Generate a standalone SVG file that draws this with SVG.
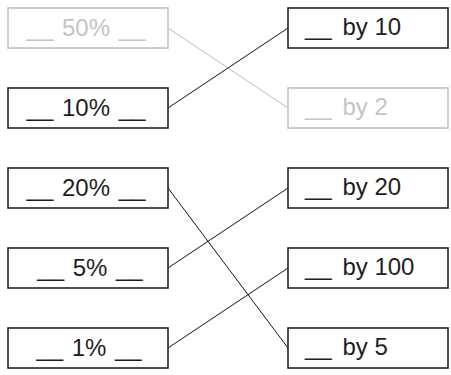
<svg xmlns="http://www.w3.org/2000/svg" width="451" height="375" viewBox="0 0 451 375">
<style>
.box{fill:#fff;stroke:#222;stroke-width:1.6}
.dim .box{stroke:#c4c4c4}
text{font-family:"Liberation Sans",Arial,sans-serif;font-size:24px;fill:#1e1e1e}
.dim text{fill:#c4c4c4}
.l{text-anchor:middle;word-spacing:2px}
.c{stroke:#111;stroke-width:1;fill:none}
.cd{stroke:#bbb;stroke-width:1;fill:none}
</style>
<rect width="451" height="375" fill="#fff"/>
<g id="connectors">
<line class="cd" x1="168" y1="28" x2="288" y2="108"/>
<line class="c" x1="168" y1="108" x2="288" y2="28"/>
<line class="c" x1="168" y1="188" x2="288" y2="348"/>
<line class="c" x1="168" y1="268" x2="288" y2="188"/>
<line class="c" x1="168" y1="348" x2="288" y2="268"/>
</g>
<g id="p50" class="dim"><rect class="box" x="8" y="8" width="160" height="40"/><text class="l" x="86" y="36">__ 50% __</text></g>
<g id="p10"><rect class="box" x="8" y="88" width="160" height="40"/><text class="l" x="86" y="116">__ 10% __</text></g>
<g id="p20"><rect class="box" x="8" y="168" width="160" height="40"/><text class="l" x="86" y="196">__ 20% __</text></g>
<g id="p5"><rect class="box" x="8" y="248" width="160" height="40"/><text class="l" x="90" y="276">__ 5% __</text></g>
<g id="p1"><rect class="box" x="8" y="328" width="160" height="40"/><text class="l" x="89" y="356">__ 1% __</text></g>
<g id="by10"><rect class="box" x="288" y="8" width="160" height="40"/><text x="305" y="35">__ <tspan dx="4">by 10</tspan></text></g>
<g id="by2" class="dim"><rect class="box" x="288" y="88" width="160" height="40"/><text x="305" y="115">__ <tspan dx="4">by 2</tspan></text></g>
<g id="by20"><rect class="box" x="288" y="168" width="160" height="40"/><text x="305" y="195">__ <tspan dx="4">by 20</tspan></text></g>
<g id="by100"><rect class="box" x="288" y="248" width="160" height="40"/><text x="305" y="275">__ <tspan dx="4">by 100</tspan></text></g>
<g id="by5"><rect class="box" x="288" y="328" width="160" height="40"/><text x="305" y="355">__ <tspan dx="4">by 5</tspan></text></g>
</svg>
